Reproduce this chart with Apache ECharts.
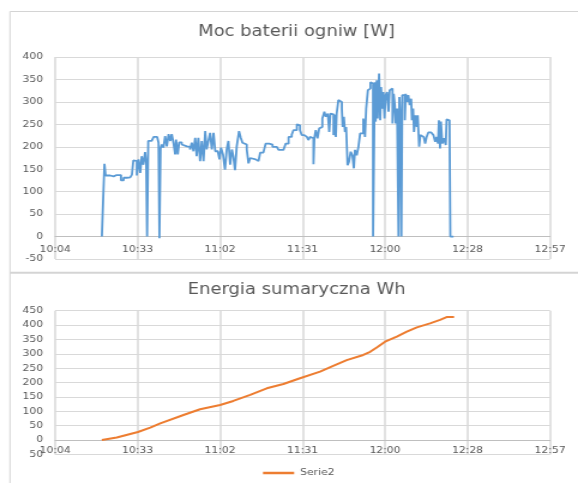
<!DOCTYPE html>
<html>
<head>
<meta charset="utf-8">
<script src="https://cdn.jsdelivr.net/npm/echarts@6/dist/echarts.min.js"></script>
<style>
html,body{margin:0;padding:0;background:#fff;overflow:hidden;}
#wrap{width:578px;height:483px;overflow:hidden;}
#chart{width:482px;height:483px;transform:scaleX(1.19917);transform-origin:0 0;}
</style>
</head>
<body>
<div id="wrap"><div id="chart"></div></div>
<script>
// ---- data (times in minutes after midnight) ----
var powerTime = [621.1,621.9,622.0,622.4,624.0,625.2,626.3,627.1,627.8,628.7,629.8,631.0,631.6,632.1,632.7,633.3,633.9,634.5,635.0,635.6,636.2,636.6,636.9,637.3,638.5,639.2,640.4,640.9,641.2,641.6,642.0,642.6,643.2,643.8,644.4,645.0,645.5,646.1,646.7,647.0,647.6,648.1,649.0,649.6,650.8,651.9,652.5,653.1,653.7,654.2,654.8,655.4,656.0,656.6,657.2,657.7,658.3,658.9,659.5,660.1,660.7,661.6,662.2,662.7,663.4,664.1,664.7,665.3,665.9,666.5,667.0,667.6,668.2,669.0,669.6,670.2,670.9,671.7,672.3,672.9,673.7,674.8,675.8,676.4,677.5,678.3,679.5,680.7,682.2,
682.8,684.5,685.3,686.3,687.4,688.0,689.2,690.0,690.3,690.9,691.8,692.7,693.2,693.8,694.4,695.0,695.3,695.8,696.4,697.0,697.5,698.1,698.8,699.3,700.0,700.5,700.9,701.6,702.0,702.3,702.8,703.1,703.7,704.4,704.9,705.2,705.6,706.0,706.4,706.9,707.4,708.0,708.6,709.1,709.5,710.1,710.7,711.3,711.6,712.1,712.4,713.0,713.4,714.0,714.5,714.9,715.3,715.8,716.4,716.7,717.1,717.4,717.9,718.3,718.6,719.1,719.4,719.8,720.2,720.7,721.2,721.6,722.1,722.6,723.0,723.4,723.7,724.2,724.7,725.0,725.4,725.7,726.0,726.5,726.9,727.2,727.7,728.1,728.6,729.1,729.4,729.8,730.1,730.6,731.1,731.4,731.9,732.3,733.0,733.5,734.0,734.5,735.1,736.1,736.9,737.5,738.0,738.5,738.8,739.2,739.5,740.0,740.6,741.2,741.5,742.1,742.5,742.8,743.9];
var powerValue = [0,0,162,136,134,137,140,137,125,131,132,134,138,170,168,136,172,142,179,160,188,164,0,213,213,222,221,209,-4,196,205,198,224,201,228,213,228,209,183,216,183,210,205,201,200,194,209,190,220,179,220,168,213,168,235,194,213,231,194,231,190,187,172,198,183,149,194,213,160,194,179,148,201,235,220,209,205,194,163,175,172,168,172,187,190,207,205,200,196,
193,196,207,222,227,237,250,248,237,226,222,226,215,222,219,161,219,237,219,241,244,263,278,267,274,233,274,272,226,272,222,274,304,300,285,244,267,233,244,159,167,189,181,152,193,181,200,230,233,230,263,222,285,326,330,344,341,0,344,256,348,263,363,259,333,285,322,263,315,322,278,326,330,252,318,293,252,285,0,311,256,0,315,315,259,318,300,315,293,307,259,285,233,270,244,270,200,226,222,226,207,222,232,230,226,211,222,207,259,196,256,207,219,204,261,259,256,0,0];

var energyTime = [621.1,626.3,633.7,638.0,641.5,649.6,655.4,662.4,667.0,672.9,678.7,684.5,690.3,697.3,701.9,706.6,712.4,714.8,717.1,720.0,724.1,727.6,731.1,735.7,739.2,741.5,744.1];
var energyValue = [0,9,28,43,58,87,107,122,136,157,180,195,215,238,258,278,296,307,322,342,360,377,392,406,418,428,428];

var titleTop = 'Moc baterii ogniw [W]';
var titleBottom = 'Energia sumaryczna Wh';
var seriesName = 'Serie2';

// axis range in seconds after midnight (Excel: 0.42 .. 0.54 day, step 0.02)
var xMin = 36288, xMax = 46656, xStep = 1728;
var yMinTop = -50, yMaxTop = 400, yMinBottom = -50, yMaxBottom = 450, yStep = 50;

function pairs(t, v){ return t.map(function(m,i){ return [m*60, v[i]]; }); }
function fmtTime(s){
  var m = Math.floor(s/60 + 1e-6);
  var h = Math.floor(m/60), mm = m%60;
  return h + ':' + (mm<10?'0':'') + mm;
}

var FONT = 'DejaVu Sans';
var GRID = '#d9d9d9', TXT = '#595959';
var gridTop = {left:46, right:23.35, top:57, height:202};
var gridBottom = {left:46, right:23.35, top:310.7, height:143.7};

// place the category line where y = 0 (Excel "axis crosses at 0")
function zeroOffset(g, ymin, ymax){ return -g.height * (0 - ymin) / (ymax - ymin); }

function xAxisCfg(gi, margin, offset){
  return {
    type:'value', gridIndex:gi, min:xMin, max:xMax, interval:xStep,
    position:'bottom', offset:offset,
    axisLine:{show:true, onZero:false, lineStyle:{color:'#bfbfbf', width:1}},
    axisTick:{show:false},
    axisLabel:{color:TXT, fontFamily:FONT, fontSize:9, margin:margin, formatter:fmtTime},
    splitLine:{show:true, lineStyle:{color:GRID, width:1.5}}
  };
}
function yAxisCfg(gi, min, max, fmt){
  return {
    type:'value', gridIndex:gi, min:min, max:max, interval:yStep,
    axisLine:{show:false, onZero:false}, axisTick:{show:false},
    axisLabel:{color:TXT, fontFamily:FONT, fontSize:9, margin:10, formatter:fmt},
    splitLine:{show:true, lineStyle:{color:GRID, width:1}}
  };
}

var chart = echarts.init(document.getElementById('chart'), null, {renderer:'canvas'});
chart.setOption({
  animation:false,
  backgroundColor:'#ffffff',
  graphic:[
    {type:'line', shape:{x1:8.3,y1:11.5,x2:482,y2:11.5}, style:{stroke:'#d4d4d4', lineWidth:1}, z:100},
    {type:'line', shape:{x1:8.3,y1:11.5,x2:8.3,y2:483}, style:{stroke:'#d4d4d4', lineWidth:1}, z:100},
    {type:'line', shape:{x1:8.3,y1:272.7,x2:482,y2:272.7}, style:{stroke:'#d4d4d4', lineWidth:2}, z:100},
    {type:'text', x:247.3, y:32, style:{text:titleTop, fontFamily:FONT, fontSize:15, fill:TXT, textAlign:'center', textVerticalAlign:'middle'}, z:100},
    {type:'text', x:247.4, y:290.5, style:{text:titleBottom, fontFamily:FONT, fontSize:15, fill:TXT, textAlign:'center', textVerticalAlign:'middle'}, z:100}
  ],
  grid:[gridTop, gridBottom],
  xAxis:[
    xAxisCfg(0, 8.5, zeroOffset(gridTop, yMinTop, yMaxTop)),
    xAxisCfg(1, 6.5, zeroOffset(gridBottom, yMinBottom, yMaxBottom))
  ],
  yAxis:[
    yAxisCfg(0, yMinTop, yMaxTop),
    yAxisCfg(1, yMinBottom, yMaxBottom, function(v){ return v === -50 ? '50' : String(v); })
  ],
  legend:{
    data:[seriesName], left:219.3, top:468.5, padding:0,
    icon:'rect', itemWidth:26, itemHeight:2.5,
    textStyle:{color:TXT, fontFamily:FONT, fontSize:9}
  },
  series:[
    {type:'line', name:'Moc', xAxisIndex:0, yAxisIndex:0, data:pairs(powerTime, powerValue),
     step:'end', showSymbol:false, symbol:'none', lineStyle:{color:'#5b9bd5', width:1.8}, itemStyle:{color:'#5b9bd5'}},
    {type:'line', name:seriesName, xAxisIndex:1, yAxisIndex:1, data:pairs(energyTime, energyValue),
     showSymbol:false, symbol:'none', lineStyle:{color:'#ed7d31', width:2}, itemStyle:{color:'#ed7d31'}}
  ]
});
</script>
</body>
</html>
